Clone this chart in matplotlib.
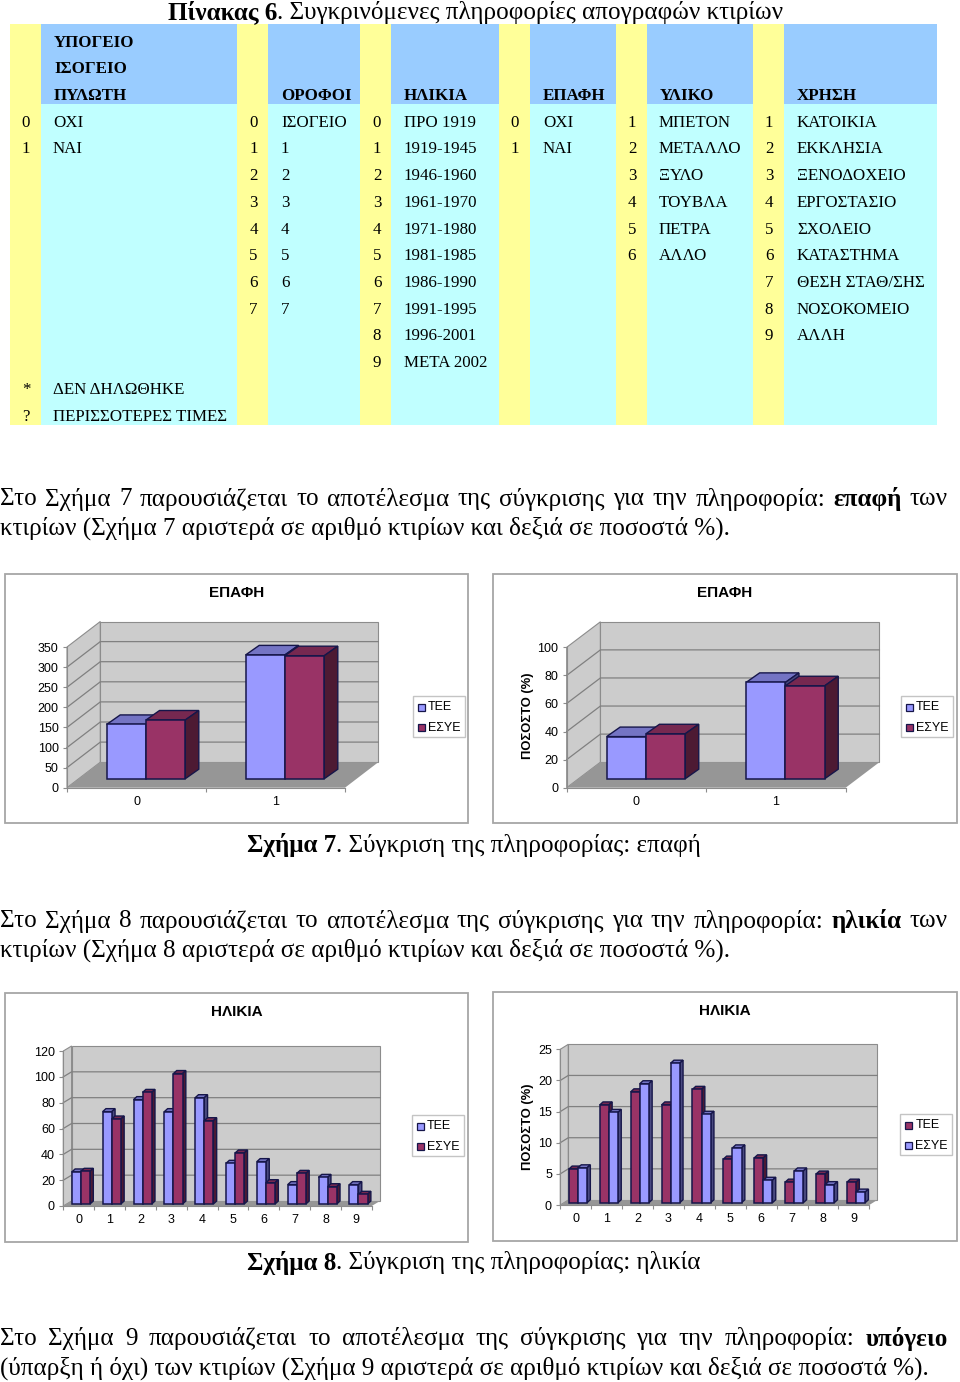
import matplotlib
matplotlib.use('Agg')
import matplotlib.pyplot as plt
from matplotlib.patches import Polygon, Rectangle

# --- table ---
header_col1 = ['ΥΠΟΓΕΙΟ', 'ΙΣΟΓΕΙΟ', 'ΠΥΛΩΤΗ']
header_rest = ['ΟΡΟΦΟΙ', 'ΗΛΙΚΙΑ', 'ΕΠΑΦΗ', 'ΥΛΙΚΟ', 'ΧΡΗΣΗ']
codes_1 = ['0', '1', '', '', '', '', '', '', '', '', '*', '?']
labels_1 = ['ΟΧΙ', 'ΝΑΙ', '', '', '', '', '', '', '', '', 'ΔΕΝ ΔΗΛΩΘΗΚΕ', 'ΠΕΡΙΣΣΟΤΕΡΕΣ ΤΙΜΕΣ']
codes_2 = ['0', '1', '2', '3', '4', '5', '6', '7', '', '', '', '']
labels_2 = ['ΙΣΟΓΕΙΟ', '1', '2', '3', '4', '5', '6', '7', '', '', '', '']
codes_3 = ['0', '1', '2', '3', '4', '5', '6', '7', '8', '9', '', '']
labels_3 = ['ΠΡΟ 1919', '1919-1945', '1946-1960', '1961-1970', '1971-1980', '1981-1985',
            '1986-1990', '1991-1995', '1996-2001', 'ΜΕΤΑ 2002', '', '']
codes_4 = ['0', '1', '', '', '', '', '', '', '', '', '', '']
labels_4 = ['ΟΧΙ', 'ΝΑΙ', '', '', '', '', '', '', '', '', '', '']
codes_5 = ['1', '2', '3', '4', '5', '6', '', '', '', '', '', '']
labels_5 = ['ΜΠΕΤΟΝ', 'ΜΕΤΑΛΛΟ', 'ΞΥΛΟ', 'ΤΟΥΒΛΑ', 'ΠΕΤΡΑ', 'ΑΛΛΟ', '', '', '', '', '', '']
codes_6 = ['1', '2', '3', '4', '5', '6', '7', '8', '9', '', '', '']
labels_6 = ['ΚΑΤΟΙΚΙΑ', 'ΕΚΚΛΗΣΙΑ', 'ΞΕΝΟΔΟΧΕΙΟ', 'ΕΡΓΟΣΤΑΣΙΟ', 'ΣΧΟΛΕΙΟ', 'ΚΑΤΑΣΤΗΜΑ',
            'ΘΕΣΗ ΣΤΑΘ/ΣΗΣ', 'ΝΟΣΟΚΟΜΕΙΟ', 'ΑΛΛΗ', '', '', '']

# --- charts ---
epafi_cats = ['0', '1']
epafi_count_tee = [135, 308]
epafi_count_esye = [146, 306]
epafi_pct_tee = [30, 68.6]
epafi_pct_esye = [32, 66.2]

age_cats = ['0', '1', '2', '3', '4', '5', '6', '7', '8', '9']
age_count_tee = [24.8, 71.5, 80.8, 71.5, 82.3, 31.5, 32.8, 15, 20.6, 15]
age_count_esye = [25.3, 65.8, 86.4, 101, 64.5, 39.5, 16.5, 23.7, 13.4, 7.5]
age_pct_tee = [5.4, 15.7, 17.8, 15.7, 18.2, 7, 7.2, 3.3, 4.6, 3.3]
age_pct_esye = [5.6, 14.5, 19.1, 22.4, 14.2, 8.8, 3.6, 5.1, 2.9, 1.7]

SERIF = 'Liberation Serif'
SANS = 'Liberation Sans'
BLUE = ('#9999ff', '#7474c4', '#4a4a80')
MAROON = ('#993366', '#762850', '#4d1a33')
EDGE = '#16164a'
BODY = 18.1
CELL = 12.15
SMALL = 9

fig = plt.figure(figsize=(9.6, 13.82), dpi=100, facecolor='white')
page = fig.add_axes([0, 0, 1, 1])
page.set_xlim(0, 960)
page.set_ylim(1382, 0)
page.axis('off')
renderer = fig.canvas.get_renderer()


def text_width(s, size, weight):
    # the bars keep trailing spaces in the measure
    t1 = page.text(0, 0, '|' + s + '|', family=SERIF, fontsize=size, weight=weight)
    t2 = page.text(0, 0, '||', family=SERIF, fontsize=size, weight=weight)
    w = t1.get_window_extent(renderer).width - t2.get_window_extent(renderer).width
    t1.remove()
    t2.remove()
    return w


def draw_line(runs, y, size, x0=0, x1=None):
    y = y + 1
    if x1 is None:
        x = x0
        for s, weight in runs:
            page.text(x, y, s, family=SERIF, fontsize=size, weight=weight, va='center', ha='left')
            x += text_width(s, size, weight)
        return
    # justified line
    words = [(w, weight) for s, weight in runs for w in s.split()]
    widths = [text_width(w, size, weight) for w, weight in words]
    gap = (x1 - x0 - sum(widths)) / (len(words) - 1)
    x = x0
    for (w, weight), wd in zip(words, widths):
        page.text(x, y, w, family=SERIF, fontsize=size, weight=weight, va='center', ha='left')
        x += wd + gap


def draw_table():
    page.add_patch(Rectangle((10, 24), 927, 80, fc='#99ccff', ec='none'))
    page.add_patch(Rectangle((10, 104), 927, 321, fc='#c0ffff', ec='none'))
    for x, w in zip([10, 237, 360, 499, 616, 753], [31, 31, 31, 31, 31, 31]):
        page.add_patch(Rectangle((x, 24), w, 401, fc='#ffff99', ec='none'))
    row_h = 26.72
    top = 42.5
    for i, s in enumerate(header_col1):
        page.text(54, top + i * row_h, s, family=SERIF, fontsize=CELL, weight='bold', va='center')
    for x, s in zip([281, 404, 543, 660, 797], header_rest):
        page.text(x, top + 2 * row_h, s, family=SERIF, fontsize=CELL, weight='bold', va='center')
    cols = [(26, 53, codes_1, labels_1), (253.5, 281, codes_2, labels_2), (377, 404, codes_3, labels_3),
            (515, 543, codes_4, labels_4), (632, 659, codes_5, labels_5), (769, 797, codes_6, labels_6)]
    for xc, xl, codes, labels in cols:
        for i in range(12):
            y = top + (i + 3) * row_h
            page.text(xc, y, codes[i], family=SERIF, fontsize=CELL, va='center', ha='center')
            page.text(xl, y, labels[i], family=SERIF, fontsize=CELL, va='center')


def draw_chart(frame, front, back_d, bar_shift, bar_d, cats, series, ymax, yticks, title, title_xy,
               legend_box, ylabel_xy=None):
    # frame (x0, y0, x1, y1), front plane (x0, ytop, x1, ybottom), all in pixels
    page.add_patch(Rectangle((frame[0], frame[1]), frame[2] - frame[0], frame[3] - frame[1],
                             fc='white', ec='#a6a6a6', lw=1.3))
    fx0, fy1, fx1, fy0 = front
    ax = fig.add_axes([fx0 / 960, 1 - fy0 / 1382, (fx1 - fx0) / 960, (fy0 - fy1) / 1382])
    ax.patch.set_visible(False)
    n = len(cats)
    ax.set_xlim(0, n)
    ax.set_ylim(0, ymax)
    ux = n / (fx1 - fx0)
    uy = ymax / (fy0 - fy1)
    dx, dy = back_d[0] * ux, back_d[1] * uy

    # walls and floor
    wall = dict(fc='#cccccc', ec='#8c8c8c', lw=0.8, clip_on=False, zorder=1)
    ax.add_patch(Polygon([(0, 0), (0, ymax), (dx, ymax + dy), (dx, dy)], **wall))
    ax.add_patch(Polygon([(dx, dy), (dx, ymax + dy), (n + dx, ymax + dy), (n + dx, dy)], **wall))
    ax.add_patch(Polygon([(0, 0), (n, 0), (n + dx, dy), (dx, dy)], fc='#969696', ec='none',
                         clip_on=False, zorder=2))
    for t in yticks[1:-1]:
        ax.plot([0, dx, n + dx], [t, t + dy, t + dy], color='#808080', lw=0.9, clip_on=False, zorder=2)

    # bars: two series per category, depth faces drawn by hand
    sx, sy = bar_shift[0] * ux, bar_shift[1] * uy
    bx, by = bar_d[0] * ux, bar_d[1] * uy
    width = bar_d[2] * ux
    for c in range(n):
        x_mid = c + 0.5 + sx
        for k, (vals, colors) in enumerate(series):
            left = x_mid - width + k * width
            right = left + width
            h = vals[c]
            ax.bar(left, h, width=width, bottom=sy, align='edge', color=colors[0], edgecolor=EDGE,
                   linewidth=1.1, clip_on=False, zorder=4 + c + k * 0.1)
            top = [(left, sy + h), (left + bx, sy + h + by), (right + bx, sy + h + by), (right, sy + h)]
            side = [(right, sy), (right + bx, sy + by), (right + bx, sy + h + by), (right, sy + h)]
            ax.add_patch(Polygon(top, fc=colors[1], ec=EDGE, lw=1.0, clip_on=False, zorder=3.9 + c + k * 0.1))
            ax.add_patch(Polygon(side, fc=colors[2], ec=EDGE, lw=1.0, clip_on=False, zorder=3.9 + c + k * 0.1))

    for sp in ['top', 'right']:
        ax.spines[sp].set_visible(False)
    for sp in ['left', 'bottom']:
        ax.spines[sp].set_color('#8c8c8c')
        ax.spines[sp].set_zorder(3)
    ax.set_yticks(yticks)
    ax.tick_params(axis='y', length=3, color='#8c8c8c', pad=3, labelsize=SMALL)
    ax.set_xticks(range(n + 1))
    ax.set_xticklabels([])
    ax.tick_params(axis='x', which='major', length=3, color='#8c8c8c')
    ax.set_xticks([c + 0.5 for c in range(n)], labels=cats, minor=True)
    ax.tick_params(axis='x', which='minor', length=0, pad=6, labelsize=SMALL)
    for lab in ax.get_xticklabels(minor=True) + ax.get_yticklabels():
        lab.set_family(SANS)

    page.text(title_xy[0], title_xy[1], title, family=SANS, fontsize=11, weight='bold', ha='center', va='center')
    if ylabel_xy:
        page.text(ylabel_xy[0], ylabel_xy[1], 'ΠΟΣΟΣΤΟ (%)', family=SANS, fontsize=9.4, weight='bold',
                  rotation=90, ha='center', va='center')

    # legend
    lx0, ly0, lx1, ly1 = legend_box
    page.add_patch(Rectangle((lx0, ly0), lx1 - lx0, ly1 - ly0, fc='white', ec='#c4c4c4', lw=1))
    names = ['ΤΕΕ', 'ΕΣΥΕ']
    for i, (vals, colors) in enumerate(series):
        y = ly0 + (ly1 - ly0) * (0.27 + 0.5 * i)
        page.add_patch(Rectangle((lx0 + 5, y - 3.5), 7, 7, fc=colors[0], ec=EDGE, lw=0.9))
        page.text(lx0 + 15.5, y, names[i], family=SANS, fontsize=SMALL, va='center')


draw_line([('Πίνακας 6', 'bold'), ('. Συγκρινόμενες πληροφορίες απογραφών κτιρίων', 'normal')], 11, BODY, x0=168)
draw_table()

draw_line([('Στο Σχήμα 7 παρουσιάζεται το αποτέλεσμα της σύγκρισης για την πληροφορία:', 'normal'),
           ('επαφή', 'bold'), ('των', 'normal')], 498, BODY, x1=948)
draw_line([('κτιρίων (Σχήμα 7 αριστερά σε αριθμό κτιρίων και δεξιά σε ποσοστά %).', 'normal')], 527, BODY)

draw_chart((5, 573.5, 468, 822.5), (67, 647, 345, 787.7), (33.3, 25.5), (9.5, 9), (13.5, 9.5, 39.3),
           epafi_cats, [(epafi_count_tee, BLUE), (epafi_count_esye, MAROON)], 350,
           [0, 50, 100, 150, 200, 250, 300, 350], 'ΕΠΑΦΗ', (236.5, 593), (412.5, 696, 464.5, 737))
draw_chart((492.5, 573.5, 957, 822.5), (566.7, 647.3, 845.7, 787.7), (33.7, 25.5), (9.5, 9), (13.5, 9.5, 39.3),
           epafi_cats, [(epafi_pct_tee, BLUE), (epafi_pct_esye, MAROON)], 100,
           [0, 20, 40, 60, 80, 100], 'ΕΠΑΦΗ', (725, 593), (900.5, 696, 953, 737), (528, 716))

draw_line([('Σχήμα 7', 'bold'), ('. Σύγκριση της πληροφορίας: επαφή', 'normal')], 844, BODY, x0=247)

draw_line([('Στο Σχήμα 8 παρουσιάζεται το αποτέλεσμα της σύγκρισης για την πληροφορία:', 'normal'),
           ('ηλικία', 'bold'), ('των', 'normal')], 920, BODY, x1=948)
draw_line([('κτιρίων (Σχήμα 8 αριστερά σε αριθμό κτιρίων και δεξιά σε ποσοστά %).', 'normal')], 949, BODY)

draw_chart((4.5, 992.5, 467.5, 1241.5), (63.3, 1051, 371.7, 1206), (8.3, 5), (2.2, 2), (3.3, 3, 9.1),
           age_cats, [(age_count_tee, BLUE), (age_count_esye, MAROON)], 120,
           [0, 20, 40, 60, 80, 100, 120], 'ΗΛΙΚΙΑ', (236.5, 1012), (411.5, 1115, 463.5, 1156))
draw_chart((492.5, 991.5, 957, 1240.5), (560.3, 1049.3, 869.3, 1205), (8, 5), (2.2, 2.3), (3.3, 3, 9.1),
           age_cats, [(age_pct_tee, MAROON), (age_pct_esye, BLUE)], 25,
           [0, 5, 10, 15, 20, 25], 'ΗΛΙΚΙΑ', (724.5, 1011), (900, 1114, 952, 1155), (528, 1127))

draw_line([('Σχήμα 8', 'bold'), ('. Σύγκριση της πληροφορίας: ηλικία', 'normal')], 1262, BODY, x0=247)

draw_line([('Στο Σχήμα 9 παρουσιάζεται το αποτέλεσμα της σύγκρισης για την πληροφορία:', 'normal'),
           ('υπόγειο', 'bold')], 1338, BODY, x1=948)
draw_line([('(ύπαρξη ή όχι) των κτιρίων (Σχήμα 9 αριστερά σε αριθμό κτιρίων και δεξιά σε ποσοστά %).', 'normal')],
          1367, BODY)

fig.savefig('out.png', dpi=100, facecolor='white')
